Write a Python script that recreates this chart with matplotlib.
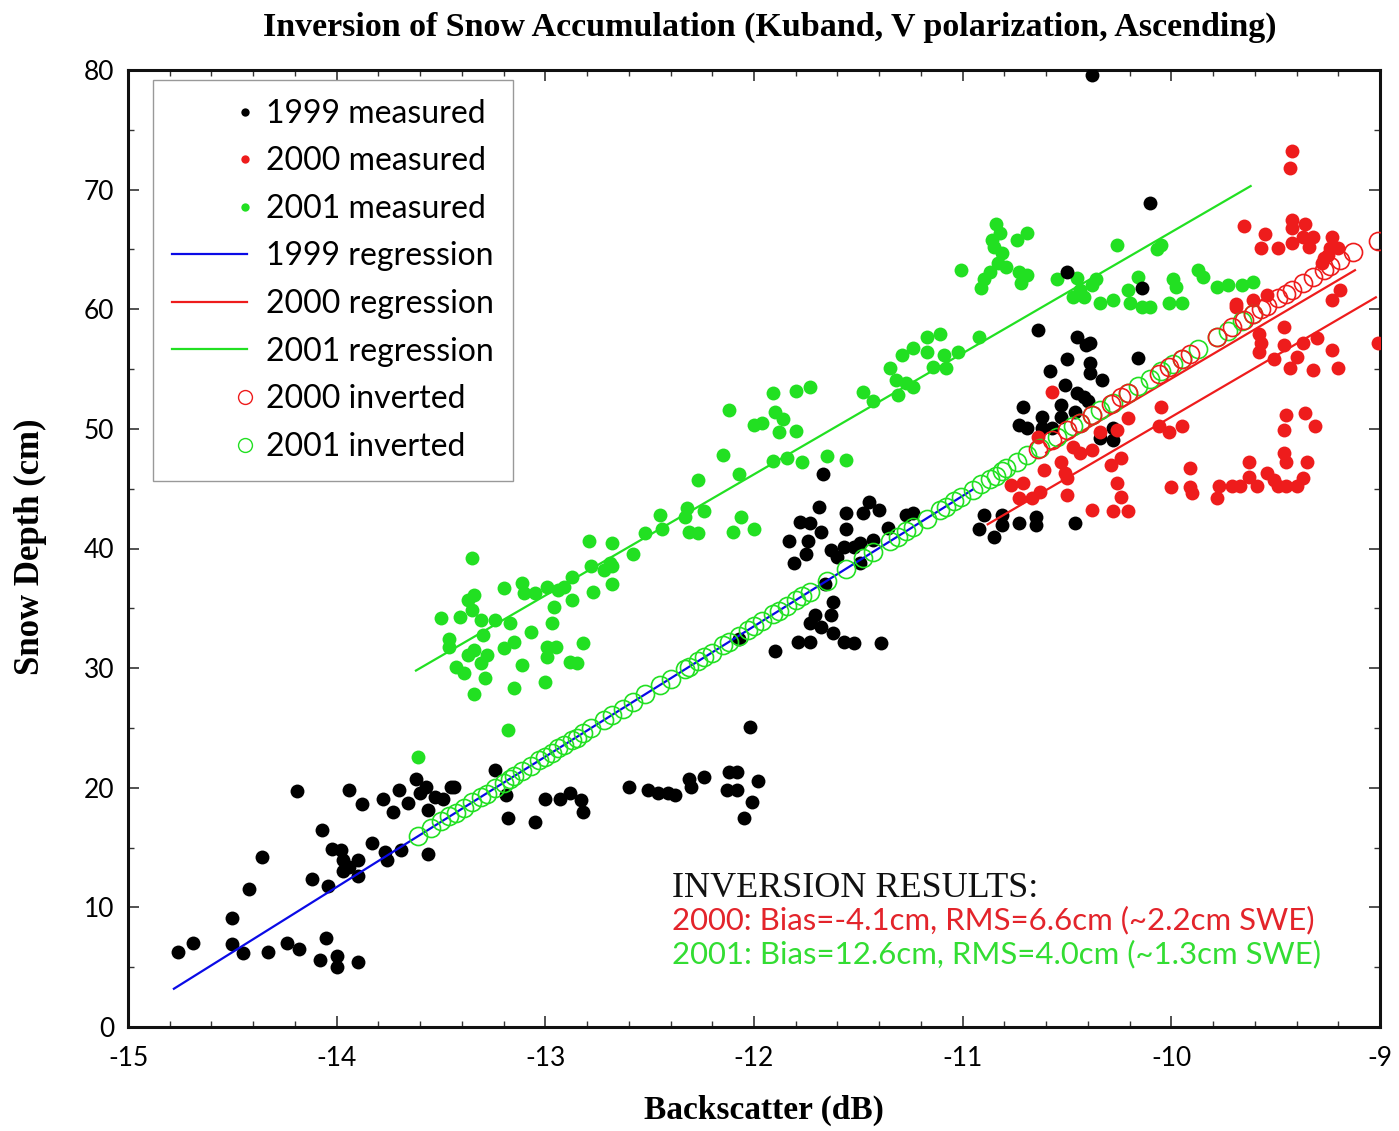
import numpy as np
import matplotlib
matplotlib.use("Agg")
import matplotlib.pyplot as plt
from matplotlib.lines import Line2D
from matplotlib.legend_handler import HandlerLine2D
from matplotlib.ticker import MultipleLocator

plt.rcParams['axes.unicode_minus'] = False

# ---- data ----
# 1999 measured (backscatter dB, snow depth cm)
x_1999 = [-14.76, -14.69, -14.50, -14.50, -14.45, -14.42, -14.36, -14.33, -14.24, -14.18,
          -14.19, -14.12, -14.07, -14.05, -14.08, -14.00, -14.00, -13.90, -14.04, -14.02,
          -13.98, -13.97, -13.97, -13.94, -13.90, -13.90, -13.94, -13.88, -13.83, -13.78,
          -13.77, -13.76, -13.73, -13.70, -13.69, -13.66, -13.62, -13.60, -13.57, -13.56,
          -13.53, -13.49, -13.45, -13.56,
          -13.44, -13.24, -13.19, -13.18, -13.05, -13.00, -12.93, -12.88, -12.83, -12.82,
          -12.60, -12.51, -12.46, -12.41, -12.38, -12.31, -12.30, -12.24, -12.12, -12.08,
          -12.13, -12.08, -11.98, -12.01, -12.05, -12.02, -12.07,
          -11.67, -11.69, -11.78, -11.73, -11.68, -11.83, -11.74, -11.75, -11.81, -11.56,
          -11.45, -11.40, -11.48, -11.56, -11.36, -11.27, -11.24, -11.63, -11.57, -11.52,
          -11.49, -11.43, -11.60, -11.49, -11.66, -11.62, -11.63, -11.71, -11.73, -11.68,
          -11.62, -11.79, -11.73, -11.57, -11.52, -11.39, -11.90,
          -10.10, -10.50, -10.14, -10.64, -10.45, -10.41, -10.39, -10.50, -10.39, -10.39,
          -10.58, -10.33, -10.16, -10.51, -10.45, -10.42, -10.40, -10.71, -10.53, -10.46,
          -10.62, -10.73, -10.69, -10.62, -10.57, -10.53, -10.34, -10.28, -10.28, -10.90,
          -10.92, -10.85, -10.81, -10.81, -10.73, -10.65, -10.65, -10.46, -10.38]
y_1999 = [6.3, 7.0, 9.1, 6.9, 6.2, 11.5, 14.2, 6.3, 7.0, 6.5,
          19.7, 12.4, 16.5, 7.4, 5.6, 5.9, 5.0, 5.4, 11.8, 14.9,
          14.8, 14.0, 13.0, 13.4, 14.0, 12.6, 19.8, 18.6, 15.4, 19.1,
          14.6, 14.0, 18.0, 19.8, 14.8, 18.7, 20.7, 19.6, 20.1, 18.1,
          19.2, 19.1, 20.1, 14.5,
          20.1, 21.5, 19.4, 17.5, 17.1, 19.1, 19.1, 19.6, 19.0, 18.0,
          20.1, 19.8, 19.6, 19.6, 19.4, 20.7, 20.1, 20.9, 21.3, 21.3,
          19.8, 19.8, 20.6, 18.8, 17.5, 25.1, 32.4,
          46.2, 43.5, 42.2, 42.1, 41.4, 40.6, 40.6, 39.5, 38.8, 43.0,
          43.9, 43.2, 43.0, 41.6, 41.7, 42.8, 43.0, 39.9, 40.1, 40.1,
          40.5, 40.7, 39.3, 38.8, 37.0, 35.5, 34.4, 34.4, 33.8, 33.4,
          32.9, 32.2, 32.2, 32.2, 32.1, 32.1, 31.4,
          68.9, 63.1, 61.8, 58.3, 57.7, 57.0, 57.2, 55.8, 55.5, 54.7,
          54.8, 54.1, 55.9, 53.7, 53.0, 52.7, 52.3, 51.8, 52.0, 51.4,
          51.0, 50.3, 50.1, 50.1, 50.1, 51.0, 49.2, 49.1, 50.1, 42.8,
          41.6, 41.0, 42.8, 42.0, 42.1, 42.6, 42.0, 42.1, 79.6]

# 2000 measured
x_2000 = [-10.57, -10.64, -10.47, -10.44, -10.38, -10.34, -10.26, -10.21, -10.05, -10.06,
          -10.01, -10.24, -10.29, -10.61, -10.53, -10.51, -10.50, -10.71, -10.77, -10.63,
          -10.67, -10.73, -10.50, -10.26, -10.24, -10.38, -10.28, -10.21, -10.00, -9.95,
          -9.91, -9.91, -9.90, -9.78, -9.77, -9.71, -9.67, -9.63, -9.63, -9.59,
          -9.54, -9.51, -9.49, -9.45, -9.40, -9.37, -9.46, -9.45, -9.35, -9.45,
          -9.46, -9.36, -9.31, -9.42, -9.43, -9.65, -9.55, -9.42, -9.42, -9.36,
          -9.57, -9.49, -9.42, -9.37, -9.32, -9.34, -9.23, -9.20, -9.24, -9.27,
          -9.25, -9.28, -9.69, -9.61, -9.54, -9.19, -9.23, -9.46, -9.58, -9.57,
          -9.58, -9.46, -9.37, -9.30, -9.40, -9.23, -9.51, -9.43, -9.32, -9.20,
          -9.01, -9.69]
y_2000 = [53.1, 49.3, 48.5, 48.0, 48.2, 49.7, 49.9, 50.9, 51.8, 50.2,
          49.7, 47.6, 47.0, 46.6, 47.2, 46.3, 45.9, 45.5, 45.3, 44.7,
          44.2, 44.2, 44.5, 45.5, 44.3, 43.2, 43.1, 43.1, 45.1, 50.2,
          46.7, 45.1, 44.6, 44.2, 45.2, 45.2, 45.2, 47.2, 46.0, 45.2,
          46.3, 45.7, 45.2, 45.2, 45.2, 45.9, 48.0, 47.2, 47.2, 51.2,
          49.9, 51.3, 50.2, 73.2, 71.8, 67.0, 66.3, 67.5, 66.8, 67.1,
          65.1, 65.1, 65.5, 66.0, 66.0, 65.2, 66.0, 65.1, 65.1, 64.3,
          64.5, 63.9, 60.4, 60.8, 61.2, 61.6, 60.8, 58.5, 57.9, 57.2,
          56.4, 57.0, 57.2, 57.6, 56.0, 56.6, 55.8, 55.1, 54.9, 55.1,
          57.2, 60.2]

# 2001 measured
x_2001 = [-13.61, -13.18,
          -13.35, -13.50, -13.41, -13.37, -13.34, -13.35, -13.31, -13.24, -13.20, -13.17,
          -13.46, -13.46, -13.30, -13.34, -13.28, -13.37, -13.43, -13.39, -13.31, -13.29,
          -13.34, -13.20, -13.15, -13.07, -13.11, -13.15, -13.00, -12.97, -12.99, -12.95,
          -12.99, -12.88, -12.85, -12.82, -13.11, -13.10, -13.05, -12.99, -12.96, -12.94,
          -12.91, -12.87, -12.87, -12.78, -12.77, -12.72, -12.68, -12.68, -12.79, -12.68,
          -12.69, -12.58, -12.52, -12.45, -12.44, -12.32, -12.33, -12.31, -12.27, -12.24,
          -12.27, -12.15, -12.07, -12.12, -12.10, -12.06, -12.00, -11.91, -11.80, -11.73,
          -11.90, -12.00, -11.96, -11.86, -11.88, -11.80, -11.91, -11.84, -11.77, -11.65,
          -11.56, -11.48, -11.43,
          -10.84, -10.82, -10.86, -10.69, -10.74, -10.85, -10.81, -10.83, -10.87, -10.79,
          -10.73, -10.69, -10.72, -10.90, -10.91, -11.01, -10.26, -10.05, -10.07, -10.55,
          -10.45, -10.44, -10.47, -10.42, -10.36, -10.38, -10.34, -10.28, -10.21, -10.16,
          -10.20, -10.14, -10.10, -9.99, -9.98, -10.01, -9.95, -9.87, -9.85, -9.78,
          -9.73, -9.66, -9.61,
          -11.35, -11.29, -11.24, -11.17, -11.11, -11.17, -11.09, -11.02, -10.92, -11.14,
          -11.08, -11.27, -11.32, -11.31, -11.24]
y_2001 = [22.6, 24.8,
          39.2, 34.2, 34.3, 35.7, 36.1, 34.9, 34.0, 34.0, 36.7, 33.8,
          32.4, 31.8, 32.8, 31.5, 31.1, 31.1, 30.1, 29.6, 30.4, 29.2,
          27.8, 31.7, 32.2, 33.0, 30.3, 28.3, 28.8, 33.8, 31.8, 31.8,
          30.9, 30.5, 30.4, 32.1, 37.1, 36.3, 36.3, 36.8, 35.1, 36.5,
          36.8, 37.6, 35.7, 38.5, 36.4, 38.2, 38.5, 37.0, 40.6, 40.5,
          38.8, 39.5, 41.3, 42.8, 41.6, 43.4, 42.6, 41.4, 41.3, 43.1,
          45.7, 47.8, 46.2, 51.6, 41.4, 42.6, 41.6, 53.0, 53.2, 53.5,
          51.4, 50.3, 50.5, 50.8, 49.7, 49.8, 47.3, 47.6, 47.2, 47.7,
          47.4, 53.1, 52.3,
          67.1, 66.4, 65.8, 66.4, 65.8, 65.2, 64.7, 63.9, 63.1, 63.5,
          63.1, 62.9, 62.2, 62.5, 61.8, 63.3, 65.4, 65.4, 65.0, 62.5,
          62.6, 61.6, 61.0, 61.0, 62.5, 62.0, 60.5, 60.8, 61.6, 62.7,
          60.5, 60.2, 60.2, 62.5, 61.9, 60.5, 60.5, 63.3, 62.7, 61.9,
          62.0, 62.0, 62.3,
          55.1, 56.2, 56.8, 57.7, 57.9, 56.4, 56.2, 56.4, 57.7, 55.2,
          55.1, 53.8, 54.1, 52.8, 53.5]

# inverted depths (2001 and 2000 backscatter through the 1999 relation)
inv_2001_x = [-13.61, -13.55, -13.50, -13.46, -13.43, -13.39, -13.35, -13.31, -13.28, -13.24,
              -13.20, -13.17, -13.15, -13.11, -13.07, -13.03, -13.00, -12.97, -12.94, -12.91,
              -12.87, -12.85, -12.82, -12.78, -12.72, -12.68, -12.63, -12.58, -12.52, -12.45,
              -12.40, -12.33, -12.31, -12.27, -12.24, -12.20, -12.15, -12.12, -12.07, -12.03,
              -12.00, -11.96, -11.91, -11.88, -11.84, -11.80, -11.77, -11.73, -11.65, -11.56,
              -11.48, -11.43, -11.35, -11.31, -11.27, -11.24, -11.17, -11.11, -11.08, -11.04,
              -11.01, -10.95, -10.91, -10.87, -10.84, -10.81, -10.79, -10.74, -10.69, -10.63,
              -10.55, -10.47, -10.44, -10.38, -10.34, -10.28, -10.21, -10.16, -10.10, -10.05,
              -9.99, -9.95, -9.87, -9.78, -9.73, -9.66, -9.61]
inv_2001_y = [16.0, 16.6, 17.2, 17.6, 17.9, 18.3, 18.8, 19.2, 19.5, 20.0,
              20.4, 20.7, 21.0, 21.4, 21.8, 22.3, 22.6, 22.9, 23.3, 23.6,
              24.0, 24.2, 24.6, 25.0, 25.7, 26.1, 26.6, 27.2, 27.8, 28.6,
              29.1, 29.9, 30.1, 30.6, 30.9, 31.3, 31.9, 32.2, 32.7, 33.2,
              33.5, 33.9, 34.5, 34.8, 35.2, 35.7, 36.0, 36.4, 37.3, 38.3,
              39.2, 39.7, 40.6, 41.0, 41.5, 41.8, 42.5, 43.2, 43.5, 44.0,
              44.3, 44.9, 45.4, 45.8, 46.1, 46.5, 46.7, 47.2, 47.8, 48.4,
              49.3, 50.2, 50.5, 51.2, 51.6, 52.2, 53.0, 53.6, 54.2, 54.8,
              55.4, 55.8, 56.7, 57.7, 58.2, 59.0, 59.6]
inv_2000_x = [-10.64, -10.57, -10.50, -10.44, -10.38, -10.29, -10.24, -10.21, -10.06, -10.01,
              -9.95, -9.91, -9.78, -9.71, -9.65, -9.61, -9.57, -9.54, -9.49, -9.45,
              -9.42, -9.37, -9.32, -9.27, -9.24, -9.19, -9.13, -9.01]
inv_2000_y = [48.3, 49.1, 49.9, 50.5, 51.2, 52.1, 52.7, 53.0, 54.6, 55.2,
              55.8, 56.3, 57.7, 58.5, 59.1, 59.6, 60.0, 60.3, 60.9, 61.3,
              61.6, 62.2, 62.7, 63.3, 63.6, 64.1, 64.8, 65.7]

# regression lines: slope, intercept, x range
reg_1999 = (10.9, 164.3, -14.78, -10.95)
reg_2000 = (10.2, 153.0, -10.88, -9.02)
reg_2000_inv = (10.3, 157.2, -10.60, -9.12)
reg_2001 = (10.125, 167.7, -13.62, -9.62)

legend_labels = ['1999 measured', '2000 measured', '2001 measured',
                 '1999 regression', '2000 regression', '2001 regression',
                 '2000 inverted', '2001 inverted']

BLACK = '#000000'
RED = '#ee1c1c'
GREEN = '#22e022'
BLUE = '#0a0ae6'
TXT_RED = '#e3242b'
TXT_GREEN = '#33dd33'

SERIF = ['Liberation Serif', 'DejaVu Serif']
SANS = ['Lato', 'DejaVu Sans']


def reg_line(ax, reg, color):
    slope, icpt, x0, x1 = reg
    xs = np.array([x0, x1])
    ax.plot(xs, slope * xs + icpt, color=color, lw=1.6, zorder=4)


class MarkerRight(HandlerLine2D):
    # legend marker sits at the right end of the handle, next to the text
    def get_xdata(self, legend, xdescent, ydescent, width, height, fontsize):
        xm = -xdescent + width - 0.05 * fontsize
        return np.array([xm - 1.0, xm]), np.array([xm])


fig = plt.figure(figsize=(13.99, 11.31), dpi=100)
ax = fig.add_axes([128 / 1399, 104 / 1131, 1252 / 1399, 957 / 1131])

dot = dict(linestyle='none', marker='o', markersize=10, markeredgewidth=0)
ax.plot(x_2001, y_2001, color=GREEN, zorder=2, **dot)
ax.plot(x_1999, y_1999, color=BLACK, zorder=3, **dot)
ax.plot(x_2000, y_2000, color=RED, zorder=3, **dot)

reg_line(ax, reg_2001, GREEN)
reg_line(ax, reg_1999, BLUE)
reg_line(ax, reg_2000, RED)

circ = dict(linestyle='none', marker='o', markersize=13, markerfacecolor='none',
            markeredgewidth=1.2)
ax.plot(inv_2001_x, inv_2001_y, markeredgecolor=GREEN, zorder=5, **circ)
ax.plot(inv_2000_x, inv_2000_y, markeredgecolor=RED, zorder=6, **circ)
reg_line(ax, reg_2000_inv, RED)

ax.set_xlim(-15, -9)
ax.set_ylim(0, 80)
ax.xaxis.set_major_locator(MultipleLocator(1))
ax.xaxis.set_minor_locator(MultipleLocator(0.2))
ax.yaxis.set_major_locator(MultipleLocator(10))
ax.yaxis.set_minor_locator(MultipleLocator(5))
ax.tick_params(which='both', direction='in', top=True, right=True, colors='#333333')
ax.tick_params(which='major', length=8, width=1.2, labelsize=19, labelcolor='black')
ax.tick_params(axis='x', which='major', pad=14)
ax.tick_params(axis='y', which='major', pad=10)
ax.tick_params(which='minor', length=4, width=1.0)
for lab in ax.get_xticklabels() + ax.get_yticklabels():
    lab.set_family(SANS)
for sp in ax.spines.values():
    sp.set_linewidth(2.2)
    sp.set_color('#111111')

# legend
handles = [
    Line2D([], [], color=BLACK, marker='o', markersize=6, linestyle='none', markeredgewidth=0),
    Line2D([], [], color=RED, marker='o', markersize=6, linestyle='none', markeredgewidth=0),
    Line2D([], [], color=GREEN, marker='o', markersize=6, linestyle='none', markeredgewidth=0),
    Line2D([], [], color=BLUE, lw=1.6),
    Line2D([], [], color=RED, lw=1.6),
    Line2D([], [], color=GREEN, lw=1.6),
    Line2D([], [], color=RED, marker='o', markersize=10, linestyle='none',
           markerfacecolor='none', markeredgewidth=1.0),
    Line2D([], [], color=GREEN, marker='o', markersize=10, linestyle='none',
           markerfacecolor='none', markeredgewidth=1.0),
]
hmap = {h: MarkerRight() for i, h in enumerate(handles) if i not in (3, 4, 5)}
leg = ax.legend(handles, legend_labels, handler_map=hmap, loc='upper left',
                bbox_to_anchor=(0.02, 0.99), borderaxespad=0, frameon=True,
                fancybox=False, edgecolor='#999999', framealpha=1,
                prop={'family': SANS, 'size': 23}, handlelength=2.35,
                handletextpad=0.6, labelspacing=0.55, borderpad=0.6)
leg.get_frame().set_linewidth(1.0)
leg.set_zorder(10)

# titles and labels
fig.text(770 / 1399, 1 - 27 / 1131, 'Inversion of Snow Accumulation (Kuband, V polarization, Ascending)',
         ha='center', va='center', family=SERIF, fontweight='bold', fontsize=24.5)
fig.text(764 / 1399, 1 - 1110 / 1131, 'Backscatter (dB)', ha='center', va='center',
         family=SERIF, fontweight='bold', fontsize=24)
fig.text(30 / 1399, 1 - 547 / 1131, 'Snow Depth (cm)', ha='center', va='center',
         rotation=90, family=SERIF, fontweight='bold', fontsize=25)

# inversion results box text
fig.text(672 / 1399, 1 - 897 / 1131, 'INVERSION RESULTS:', ha='left', va='baseline',
         family=SERIF, fontsize=26, color='#111111')
fig.text(672 / 1399, 1 - 929 / 1131, '2000: Bias=-4.1cm, RMS=6.6cm (~2.2cm SWE)',
         ha='left', va='baseline', family=SANS, fontsize=22.4, color=TXT_RED)
fig.text(672 / 1399, 1 - 963 / 1131, '2001: Bias=12.6cm, RMS=4.0cm (~1.3cm SWE)',
         ha='left', va='baseline', family=SANS, fontsize=22.4, color=TXT_GREEN)

fig.savefig('out.png', dpi=100, facecolor='white')
